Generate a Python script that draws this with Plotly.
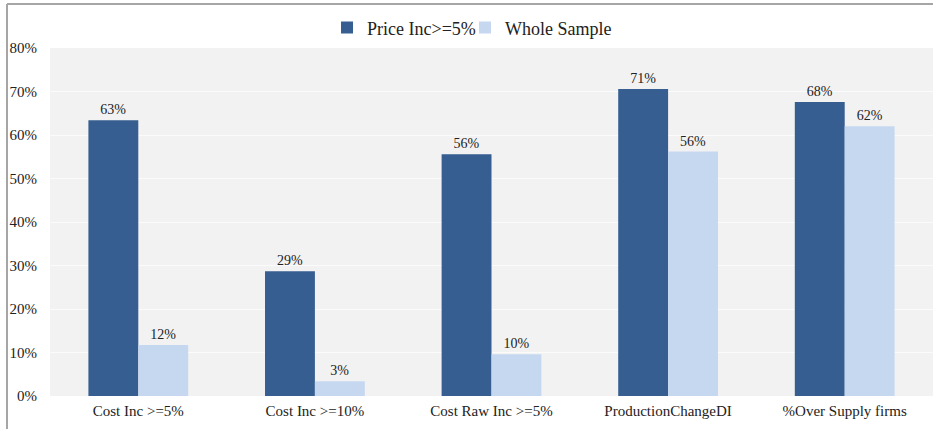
import plotly.graph_objects as go

categories = ["Cost Inc >=5%", "Cost Inc >=10%", "Cost Raw Inc >=5%", "ProductionChangeDI", "%Over Supply firms"]
price_inc = [0.634, 0.287, 0.556, 0.706, 0.676]
whole_sample = [0.117, 0.034, 0.096, 0.562, 0.620]
tick_vals = [0, 0.1, 0.2, 0.3, 0.4, 0.5, 0.6, 0.7, 0.8]

FONT = "Liberation Serif, Times New Roman, serif"

fig = go.Figure()
fig.add_trace(go.Bar(
    name="Price Inc>=5%", x=categories, y=price_inc,
    marker=dict(color="#365E91", line=dict(width=0)),
    texttemplate="%{y:.0%}", textposition="outside",
    textfont=dict(family=FONT, size=14, color="#222"),
    cliponaxis=False, legend="legend", showlegend=True,
))
fig.add_trace(go.Bar(
    name="Whole Sample", x=categories, y=whole_sample,
    marker=dict(color="#C5D8F0", line=dict(width=0)),
    texttemplate="%{y:.0%}", textposition="outside",
    textfont=dict(family=FONT, size=14, color="#222"),
    cliponaxis=False, legend="legend2", showlegend=True,
))

leg_common = dict(
    orientation="h", xref="container", yref="container",
    y=0.935, xanchor="left", yanchor="middle",
    font=dict(family=FONT, size=18, color="#222"),
    bgcolor="rgba(0,0,0,0)", visible=True,
)

fig.update_layout(
    width=933, height=429,
    showlegend=True,
    margin=dict(l=50, r=0, t=48, b=33, autoexpand=False),
    paper_bgcolor="white",
    plot_bgcolor="#F2F2F2",
    barmode="group", bargap=0.435, bargroupgap=0,
    font=dict(family=FONT, color="#222"),
    legend=dict(x=0.3505, **leg_common),
    legend2=dict(x=0.4984, **leg_common),
    xaxis=dict(
        showgrid=False, zeroline=False, showline=False,
        ticks="outside", ticklen=1, tickcolor="rgba(0,0,0,0)",
        tickfont=dict(family=FONT, size=15, color="#222"),
    ),
    yaxis=dict(
        range=[0, 0.8], tickvals=tick_vals, tickformat=".0%",
        showgrid=True, gridcolor="#FBFBFB", gridwidth=1,
        zeroline=False, showline=False,
        ticks="outside", ticklen=9, tickcolor="rgba(0,0,0,0)",
        tickfont=dict(family=FONT, size=15, color="#222"),
    ),
    shapes=[
        dict(type="line", xref="paper", yref="paper",
             x0=-43/883, x1=1.05, y0=(392)/348, y1=(392)/348,
             line=dict(color="#A6A6A6", width=2)),
        dict(type="line", xref="paper", yref="paper",
             x0=-43/883, x1=-43/883, y0=-0.2, y1=(392)/348,
             line=dict(color="#A6A6A6", width=2)),
    ],
)

fig.write_html("out.html", config={"displayModeBar": False},
               post_script="document.body.style.margin='0';")
